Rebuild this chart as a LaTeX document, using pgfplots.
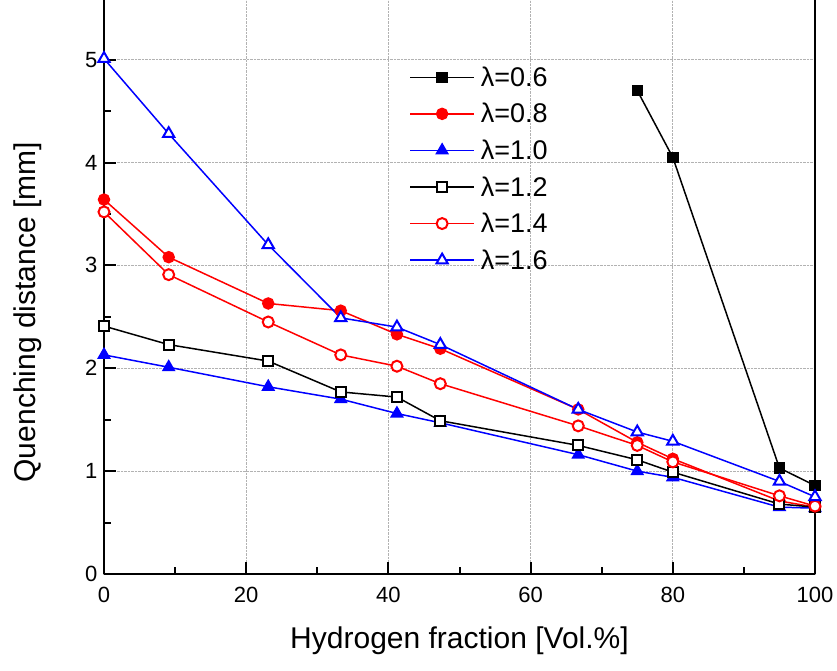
\documentclass[border=0pt]{standalone}
\usepackage{pgfplots}
\pgfplotsset{compat=1.18}
\usepackage{fontspec}
\setmainfont{Liberation Sans}
\begin{document}
\begin{tikzpicture}
\begin{axis}[
  at={(0pt,0pt)}, anchor=south west,
  scale only axis,
  width=711pt, height=574pt,
  xmin=0, xmax=100, ymin=0, ymax=5.58,
  xtick={0,20,...,100}, ytick={0,1,...,5},
  minor xtick={10,30,50,70,90},
  minor ytick={0.5,1.5,2.5,3.5,4.5},
  axis x line*=bottom, axis y line*=left,
  axis line style={-, line width=2.5pt, black},
  tick align=inside,
  major tick length=12pt, minor tick length=7pt,
  every tick/.style={black, line width=2pt},
  xmajorgrids, ymajorgrids,
  grid style={densely dotted, gray!60, line width=1pt},
  /pgf/number format/assume math mode=true,
  tick label style={font=\fontsize{22}{24}\selectfont},
  xticklabel style={yshift=-10pt},
  yticklabel style={xshift=-3pt},
  label style={font=\fontsize{30}{34}\selectfont},
  xlabel={Hydrogen fraction [Vol.\%]},
  ylabel={Quenching distance [mm]},
  xlabel style={at={(axis description cs:0.5,-0.117)}, anchor=center},
  ylabel style={at={(axis description cs:-0.107,0.456)}, anchor=center},
  legend style={at={(0.425,0.891)}, anchor=north west, draw=none, fill=none,
    font=\fontsize{27}{30}\selectfont, row sep=11.5pt,
    /tikz/every odd column/.append style={column sep=4pt}},
  legend cell align=left,
  legend image code/.code={\draw[mark repeat=2,mark phase=2] plot coordinates {(0pt,0pt) (32pt,0pt) (64pt,0pt)};},
  every axis plot/.append style={line width=1.5pt},
  clip=false,
]
\addplot[black, mark=square*, mark size=5pt, mark options={solid, fill=black}] coordinates {
(75,4.70) (80,4.05) (95,1.03) (100,0.86)};
\addlegendentry{λ=0.6}
\addplot[red, mark=*, mark size=5.5pt, mark options={solid, fill=red}] coordinates {
(0,3.64) (9.1,3.08) (23.1,2.63) (33.3,2.56) (41.2,2.33) (47.3,2.19) (66.7,1.60) (75,1.28) (80,1.12) (95,0.71) (100,0.65)};
\addlegendentry{λ=0.8}
\addplot[blue, mark=triangle*, mark size=6.5pt, mark options={solid, fill=blue}] coordinates {
(0,2.13) (9.1,2.01) (23.1,1.82) (33.3,1.70) (41.2,1.56) (47.3,1.47) (66.7,1.16) (75,1.00) (80,0.94) (95,0.65) (100,0.64)};
\addlegendentry{λ=1.0}
\addplot[black, mark=square*, mark size=5pt, mark options={solid, fill=white, line width=2pt}] coordinates {
(0,2.41) (9.1,2.23) (23.1,2.07) (33.3,1.77) (41.2,1.72) (47.3,1.49) (66.7,1.25) (75,1.11) (80,0.99) (95,0.68) (100,0.65)};
\addlegendentry{λ=1.2}
\addplot[red, mark=*, mark size=5.5pt, mark options={solid, fill=white, line width=2pt}] coordinates {
(0,3.52) (9.1,2.91) (23.1,2.45) (33.3,2.13) (41.2,2.02) (47.3,1.85) (66.7,1.44) (75,1.25) (80,1.09) (95,0.76) (100,0.66)};
\addlegendentry{λ=1.4}
\addplot[blue, mark=triangle*, mark size=6.5pt, mark options={solid, fill=white, line width=2pt}] coordinates {
(0,5.01) (9.1,4.28) (23.1,3.20) (33.3,2.49) (41.2,2.40) (47.3,2.23) (66.7,1.60) (75,1.38) (80,1.29) (95,0.90) (100,0.75)};
\addlegendentry{λ=1.6}
\draw[line width=2.5pt, black] (rel axis cs:1,0) -- (rel axis cs:1,1);
\end{axis}
\pgfresetboundingbox
\path[use as bounding box] (-104pt,-96pt) rectangle (733pt,574pt);
\end{tikzpicture}
\end{document}
